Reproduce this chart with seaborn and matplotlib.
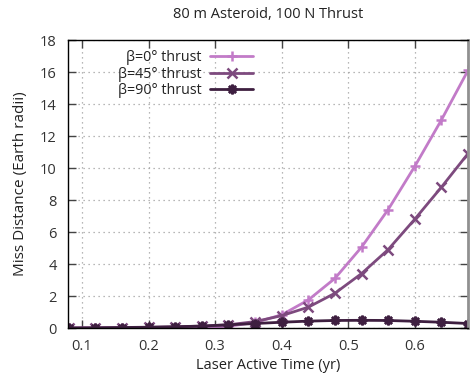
import matplotlib
matplotlib.use("Agg")
import matplotlib.pyplot as plt
import seaborn as sns
import pandas as pd

time_yr = [0.08, 0.12, 0.16, 0.20, 0.24, 0.28, 0.32, 0.36, 0.40, 0.44, 0.48, 0.52, 0.56, 0.60, 0.64, 0.68]
beta0 = [0.0, 0.0, 0.01, 0.01, 0.02, 0.04, 0.10, 0.35, 0.82, 1.75, 3.1, 5.05, 7.4, 10.1, 13.0, 16.1]
beta45 = [0.0, 0.01, 0.02, 0.04, 0.07, 0.12, 0.20, 0.40, 0.77, 1.30, 2.17, 3.40, 4.9, 6.8, 8.8, 10.9]
beta90 = [0.0, 0.01, 0.03, 0.05, 0.08, 0.12, 0.20, 0.28, 0.36, 0.43, 0.47, 0.48, 0.47, 0.42, 0.36, 0.28]
labels = ["β=0° thrust", "β=45° thrust", "β=90° thrust"]
colors = ["#c27bc8", "#7d4a7e", "#3e1f40"]
markers = ["+", "x", (8, 2, 0)]

sns.set_theme(style="white")
plt.rcParams['font.family'] = ['Open Sans', 'DejaVu Sans']

fig = plt.figure(figsize=(4.72, 3.77), dpi=100)
ax = fig.add_axes([68/472, 1 - 328/377, 400/472, 288/377])

for vals, lab, col, mk in zip([beta0, beta45, beta90], labels, colors, markers):
    df = pd.DataFrame({"t": time_yr, "d": vals})
    sns.lineplot(data=df, x="t", y="d", ax=ax, color=col, marker=mk, markersize=7,
                 markeredgewidth=1.8, markeredgecolor=col, linewidth=2, label=lab)

ax.set_xlim(0.079, 0.68)
ax.set_ylim(0, 18)
ax.set_xticks([0.1, 0.2, 0.3, 0.4, 0.5, 0.6])
ax.set_yticks(range(0, 19, 2))
ax.grid(True, linestyle=(0, (1, 3)), color="#a0a0a0", linewidth=0.9)
ax.tick_params(axis="both", direction="in", length=6, width=1, color="#444444",
               top=True, right=True, bottom=True, left=True, labelsize=10.5,
               labelcolor="#333333")
ax.tick_params(axis="x", pad=8)
ax.tick_params(axis="y", pad=8)
for s in ax.spines.values():
    s.set_color("black")
    s.set_linewidth(1)
ax.spines["right"].set_color("#909090")
ax.spines["right"].set_linewidth(2)

ax.set_xlabel("Laser Active Time (yr)", fontsize=10.5, color="#222222", labelpad=3)
ax.set_ylabel("Miss Distance (Earth radii)", fontsize=11, color="#222222", labelpad=9)
ax.set_title("80 m Asteroid, 100 N Thrust", fontsize=10.5, color="#222222", pad=16)

leg = ax.legend(loc="upper left", frameon=False, markerfirst=False, fontsize=10.3,
                handlelength=3.0, handletextpad=0.6, borderaxespad=0.3, labelspacing=0.12,
                bbox_to_anchor=(0.1, 1.0))
for t in leg.get_texts():
    t.set_color("#222222")

fig.savefig("out.png", dpi=100)
